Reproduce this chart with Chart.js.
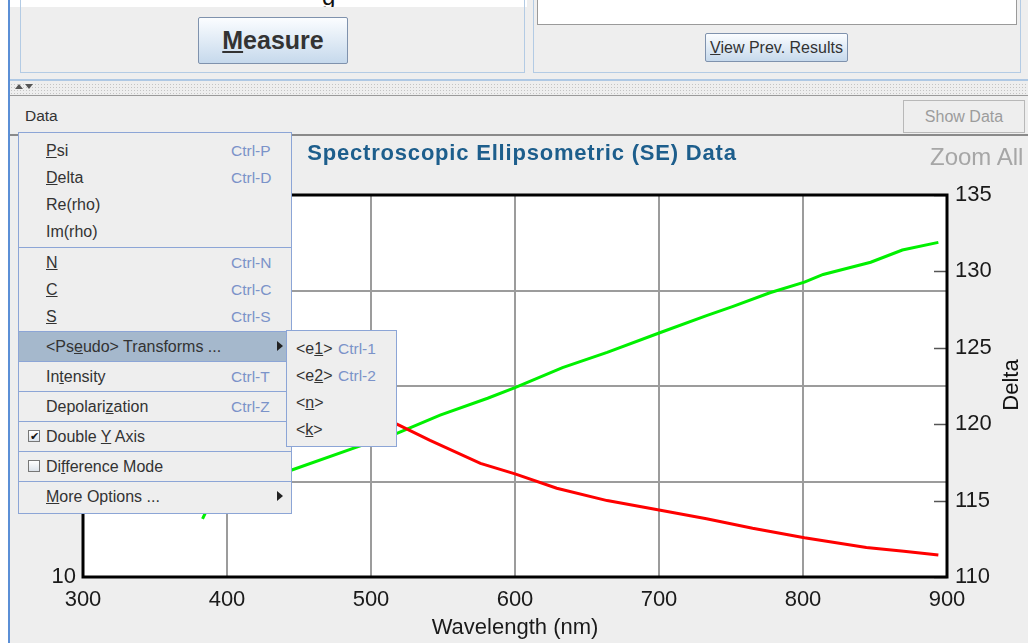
<!DOCTYPE html>
<html lang="en">
  <head>
    <meta charset="UTF-8">
    <script src="https://cdn.jsdelivr.net/npm/chart.js"></script>
    <title>SE Data</title>
    <style>
      body{margin: 0; width: 1028px; height: 643px; overflow: hidden; background: #eeeeee; position: relative;
        font-family: "Liberation Sans", Arial, sans-serif; color: #333;}
      .abs{position: absolute;}
      #leftEdge{left: 0; top: 0; width: 8px; height: 643px; background: #fff;}
      #blueEdge{left: 8px; top: 0; width: 2px; height: 643px; background: #5b8fd6;}
      #topBand{left: 10px; top: 0; width: 517px; height: 7px; background: #fff; overflow: hidden;}
      .panel{border: 1px solid #b3cbe4; box-sizing: border-box;}
      .btn{background: linear-gradient(#fbfdff, #c6d9ec); border: 1px solid #7f92ad; border-radius: 2px;
        box-sizing: border-box; text-align: center; color: #333;}
      #measure{left: 198px; top: 17px; width: 150px; height: 47px; font: bold 25px "Liberation Sans", Arial; line-height: 45px;}
      #viewPrev{left: 705px; top: 33px; width: 143px; height: 29px; font-size: 16px; line-height: 27px;}
      #divTop{left: 10px; top: 79px; width: 1018px; height: 2px; background: #aec8e4;}
      #dots{left: 10px; top: 83px; width: 1018px; height: 12px;
        background-image: radial-gradient(#c4c4c4 0.7px, transparent 0.9px); background-size: 3px 3px;}
      #divBot{left: 10px; top: 95px; width: 1018px; height: 1px; background: #9a9a9a;}
      #dataLbl{left: 25px; top: 107px; font-size: 15.5px;}
      #showData{left: 903px; top: 100px; width: 122px; height: 33px; border: 1px solid #b8b8b8; box-sizing: border-box;
        color: #9c9c9c; font-size: 16px; line-height: 31px; text-align: center;}
      #sepLine{left: 10px; top: 134px; width: 1018px; height: 2px; background: #8a8a8a;}
      #chartBox{left: 0; top: 136px; width: 1028px; height: 507px;}
      #title{left: 272px; top: 140px; width: 500px; text-align: center; font: bold 22px "Liberation Sans", Arial;
        letter-spacing: 0.8px; color: #1d5e8c;}
      #zoomAll{left: 930px; top: 143px; font-size: 24px; color: #a6a6a6;}
      #deltaLbl{left: 985px; top: 372px; width: 52px; text-align: center; font-size: 22px; color: #111;
        transform: rotate(-90deg); transform-origin: 50% 50%;}
      .menu{background: #eeeeee; border: 1px solid #8ca5d6; box-sizing: border-box; font-size: 16px;}
      .mi{position: absolute; left: 0; right: 0; height: 27px; line-height: 27px; padding-left: 27px;}
      .tall{height: 29px; line-height: 29px;}
      .sc{position: absolute; left: 212px; color: #7b93c9; font-size: 15.5px;}
      .sep{position: absolute; left: 0; right: 0; height: 1px; background: #8ca5d6;}
      .hl{background: #a5b8cc;}
      .arrow{position: absolute; left: 258px; top: 9px; width: 0; height: 0; border-left: 6px solid #222;
        border-top: 5px solid transparent; border-bottom: 5px solid transparent;}
      .chk{position: absolute; left: 9px; top: 8px; width: 12px; height: 12px; box-sizing: border-box;
        border: 1px solid #777; background: linear-gradient(#fff, #dde3ea); font-size: 11px; line-height: 10px;
        text-align: center; color: #111;}
      .smi{position: absolute; left: 0; right: 0; height: 27px; line-height: 27px; padding-left: 9px;}
      .smi .sc{left: 51px;}
    </style>
  </head>
  <body>
    <div class="abs" id="leftEdge"></div>
    <div class="abs" id="blueEdge"></div>
    <div class="abs" id="topBand"><span class="abs" style="left:312px; top:-17px; font-size:24px; color:#111;">g</span></div>

    <div class="abs panel" style="left:20px; top:-2px; width:505px; height:75px;"></div>
    <div class="abs panel" style="left:533px; top:-2px; width:488px; height:75px;"></div>
    <div class="abs" style="left:537px; top:-1px; width:480px; height:26px; background:#fff; border:1px solid #9a9a9a; box-sizing:border-box;"></div>

    <div class="abs btn" id="measure"><u>M</u>easure</div>
    <div class="abs btn" id="viewPrev"><u>V</u>iew Prev. Results</div>

    <div class="abs" id="divTop"></div>
    <div class="abs" id="dots"></div>
    <div class="abs" style="left:15px; top:84px; width:0; height:0; border-left:4px solid transparent; border-right:4px solid transparent; border-bottom:5px solid #555;"></div>
    <div class="abs" style="left:25px; top:84px; width:0; height:0; border-left:4px solid transparent; border-right:4px solid transparent; border-top:5px solid #555;"></div>
    <div class="abs" id="divBot"></div>

    <div class="abs" id="dataLbl">Data</div>
    <div class="abs" id="showData">Show Data</div>
    <div class="abs" id="sepLine"></div>

    <div class="abs" id="chartBox"><canvas id="seChart" width="1028" height="507"></canvas></div>
    <div class="abs" id="title">Spectroscopic Ellipsometric (SE) Data</div>
    <div class="abs" id="zoomAll">Zoom All</div>
    <div class="abs" id="deltaLbl">Delta</div>

    <!-- Data menu -->
    <div class="abs menu" style="left:18px; top:132px; width:274px; height:382px;">
      <div class="mi" style="top:4px;"><u>P</u>si<span class="sc">Ctrl-P</span></div>
      <div class="mi" style="top:31px;"><u>D</u>elta<span class="sc">Ctrl-D</span></div>
      <div class="mi" style="top:58px;">Re(rho)</div>
      <div class="mi" style="top:85px;">Im(rho)</div>
      <div class="sep" style="top:114px;"></div>
      <div class="mi" style="top:116px;"><u>N</u><span class="sc">Ctrl-N</span></div>
      <div class="mi" style="top:143px;"><u>C</u><span class="sc">Ctrl-C</span></div>
      <div class="mi" style="top:170px;"><u>S</u><span class="sc">Ctrl-S</span></div>
      <div class="sep" style="top:198px;"></div>
      <div class="mi tall hl" style="top:199px;">&lt;Ps<u>e</u>udo&gt; Transforms ...<span class="arrow"></span></div>
      <div class="sep" style="top:228px;"></div>
      <div class="mi tall" style="top:229px;">In<u>t</u>ensity<span class="sc">Ctrl-T</span></div>
      <div class="sep" style="top:258px;"></div>
      <div class="mi tall" style="top:259px;">Depolari<u>z</u>ation<span class="sc">Ctrl-Z</span></div>
      <div class="sep" style="top:288px;"></div>
      <div class="mi tall" style="top:289px;"><span class="chk">&#10004;</span>Double <u>Y</u> Axis</div>
      <div class="sep" style="top:318px;"></div>
      <div class="mi tall" style="top:319px;"><span class="chk"></span>Di<u>f</u>ference Mode</div>
      <div class="sep" style="top:348px;"></div>
      <div class="mi tall" style="top:349px;"><u>M</u>ore Options ...<span class="arrow"></span></div>
    </div>

    <!-- Transforms submenu -->
    <div class="abs menu" style="left:286px; top:330px; width:111px; height:117px;">
      <div class="smi" style="top:4px;">&lt;e<u>1</u>&gt;<span class="sc">Ctrl-1</span></div>
      <div class="smi" style="top:31px;">&lt;e<u>2</u>&gt;<span class="sc">Ctrl-2</span></div>
      <div class="smi" style="top:58px;">&lt;<u>n</u>&gt;</div>
      <div class="smi" style="top:85px;">&lt;<u>k</u>&gt;</div>
    </div>

    <script>
      // Psi (left axis), part of it hidden under the menu
      const psiWl = [383, 400, 420, 445, 470, 495, 518, 541, 576, 600, 629, 664, 701, 733, 765, 801, 844, 870, 894];
      const psiVals = [44.0, 41.0, 37.6, 34.0, 31.0, 28.3, 26.0, 24.3, 21.9, 20.8, 19.3, 18.0, 17.0, 16.1, 15.1, 14.1, 13.1, 12.7, 12.3];

      // Delta (right axis)
      const deltaWl = [383, 386, 392, 400, 420, 445, 490, 518, 548, 581, 600, 633, 664, 701, 733, 751, 777, 801, 814, 847, 869, 894];
      const deltaVals = [113.8, 114.4, 115.0, 115.5, 116.2, 117.0, 118.5, 119.4, 120.6, 121.7, 122.4, 123.7, 124.7, 126.0, 127.1, 127.7, 128.6, 129.3, 129.8, 130.6, 131.4, 131.9];

      // axis ranges / ticks
      const xRange = [300, 900], xStep = 100;
      const psiRange = [10, 50], psiStep = 10;
      const deltaRange = [110, 135], deltaStep = 5;

      const fam = '"Liberation Sans", Arial, sans-serif';

      // white plot area, black frame and inward ticks on the Delta axis
      const framePlugin = {
        id: 'frame',
        beforeDraw(chart){
          const {ctx, chartArea: a} = chart;
          ctx.save();
          ctx.fillStyle = '#ffffff';
          ctx.fillRect(a.left, a.top, a.width, a.height);
          ctx.restore();
        },
        afterDatasetsDraw(chart){
          const {ctx, chartArea: a, scales} = chart;
          const r = scales.y1;
          ctx.save();
          ctx.strokeStyle = '#555';
          ctx.lineWidth = 1.5;
          r.ticks.forEach(function(t){
            const y = Math.round(r.getPixelForValue(t.value)) + 0.5;
            ctx.beginPath();
            ctx.moveTo(a.right - 13, y);
            ctx.lineTo(a.right, y);
            ctx.stroke();
          });
          ctx.strokeStyle = '#000';
          ctx.lineWidth = 3;
          ctx.strokeRect(a.left, a.top, a.width, a.height);
          ctx.restore();
        }
      };

      new Chart(document.getElementById('seChart'), {
        type: 'line',
        data: {
          datasets: [{
            label: 'Psi',
            data: psiWl.map((x, i) => ({x: x, y: psiVals[i]})),
            yAxisID: 'y',
            borderColor: '#ff0000',
            borderWidth: 3,
            pointRadius: 0,
            tension: 0
          }, {
            label: 'Delta',
            data: deltaWl.map((x, i) => ({x: x, y: deltaVals[i]})),
            yAxisID: 'y1',
            borderColor: '#00f000',
            borderWidth: 3,
            pointRadius: 0,
            tension: 0
          }]
        },
        options: {
          responsive: false,
          animation: false,
          layout: {padding: {top: 59, left: 0, right: 0, bottom: 0}},
          plugins: {legend: {display: false}, tooltip: {enabled: false}},
          scales: {
            x: {
              type: 'linear', min: xRange[0], max: xRange[1],
              ticks: {stepSize: xStep, padding: 10, color: '#1a1a1a', font: {family: fam, size: 22}},
              grid: {color: '#9c9c9c', lineWidth: 2, drawTicks: false},
              border: {display: false},
              title: {display: true, text: 'Wavelength (nm)', color: '#1a1a1a', font: {family: fam, size: 22}, padding: {top: 0, bottom: 2}},
              afterFit(s){ s.height = 66; }
            },
            y: {
              position: 'left', min: psiRange[0], max: psiRange[1],
              ticks: {stepSize: psiStep, padding: 7, color: '#1a1a1a', font: {family: fam, size: 22}},
              grid: {color: '#9c9c9c', lineWidth: 2, drawTicks: false},
              border: {display: false},
              afterFit(s){ s.width = 83; }
            },
            y1: {
              position: 'right', min: deltaRange[0], max: deltaRange[1],
              ticks: {stepSize: deltaStep, padding: 8, color: '#1a1a1a', font: {family: fam, size: 22}},
              grid: {drawOnChartArea: false, drawTicks: false},
              border: {display: false},
              afterFit(s){ s.width = 81; }
            }
          }
        },
        plugins: [framePlugin]
      });
    </script>
  </body>
</html>
